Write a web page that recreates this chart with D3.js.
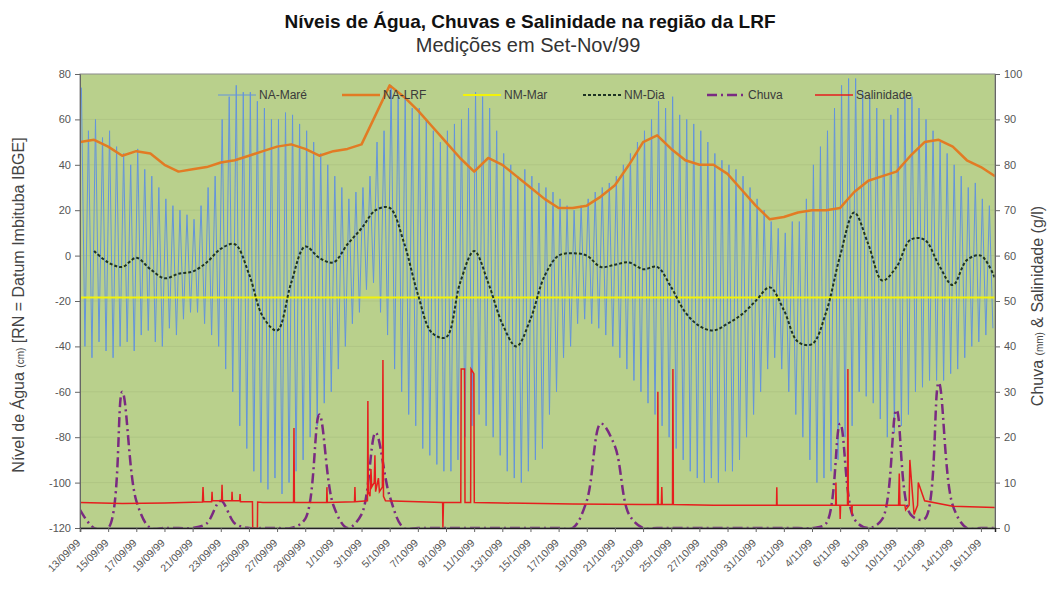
<!DOCTYPE html>
<html>
<head>
<meta charset="utf-8">
<script src="https://cdn.jsdelivr.net/npm/d3@7/dist/d3.min.js"></script>
<style>
  body { margin: 0; background: #fff; }
  svg { display: block; font-family: "Liberation Sans", Arial, sans-serif; }
</style>
</head>
<body>
<svg id="chart" width="1054" height="596"></svg>
<script>
// ---- data ----
var startDay = "13/09/99";
var endDay = "17/11/99";

var dateLabels = ["13/09/99", "15/09/99", "17/09/99", "19/09/99", "21/09/99", "23/09/99", "25/09/99",
  "27/09/99", "29/09/99", "1/10/99", "3/10/99", "5/10/99", "7/10/99", "9/10/99", "11/10/99",
  "13/10/99", "15/10/99", "17/10/99", "19/10/99", "21/10/99", "23/10/99", "25/10/99", "27/10/99",
  "29/10/99", "31/10/99", "2/11/99", "4/11/99", "6/11/99", "8/11/99", "10/11/99", "12/11/99",
  "14/11/99", "16/11/99"];

var leftTicks = [-120, -100, -80, -60, -40, -20, 0, 20, 40, 60, 80];
var rightTicks = [0, 10, 20, 30, 40, 50, 60, 70, 80, 90, 100];

var seriesNames = ["NA-Maré", "NA-LRF", "NM-Mar", "NM-Dia", "Chuva", "Salinidade"];

// NA-Maré : 4 readings per day (high, low, high, low), cm
var tideLevels = [
  74, -40, 55, -45,   60, -38, 52, -42,   55, -45, 48, -40,   45, -38, 40, -42,
  47, -35, 38, -33,   35, -38, 30, -40,   25, -32, 22, -35,   20, -28, 18, -25,
  16, -25, 22, -30,   30, -35, 35, -40,   60, -50, 70, -60,   75, -75, 72, -85,
  72, -95, 68, -100,  65, -103, 60, -98,  60, -105, 63, -100, 62, -95, 58, -90,
  55, -80, 50, -75,   45, -65, 40, -60,   35, -50, 30, -40,   25, -30, 28, -25,
  30, -15, 35, -12,   50, -25, 55, -35,   75, -50, 70, -60,   70, -70, 65, -75,
  65, -85, 60, -88,   55, -92, 50, -95,   55, -95, 58, -90,   60, -80, 65, -75,
  72, -70, 70, -75,   65, -80, 55, -88,   45, -95, 40, -98,   35, -100, 38, -95,
  35, -90, 32, -85,   30, -70, 28, -60,   25, -45, 22, -40,   20, -30, 22, -28,
  25, -30, 28, -32,   30, -35, 32, -40,   35, -45, 40, -50,   45, -55, 50, -60,
  55, -65, 60, -70,   68, -75, 65, -80,   70, -85, 62, -90,   60, -95, 58, -98,
  55, -100, 50, -98,  45, -100, 42, -95,  40, -95, 38, -90,   35, -80, 30, -70,
  25, -60, 20, -50,   15, -45, 12, -50,   10, -60, 15, -70,   15, -80, 25, -90,
  40, -100, 48, -98,  55, -95, 65, -90,   75, -80, 78, -75,   78, -60, 72, -62,
  70, -65, 65, -72,   60, -80, 62, -78,   65, -75, 70, -70,   70, -60, 65, -58,
  60, -55, 55, -55,   50, -55, 45, -52,   40, -50, 35, -45,   30, -40, 32, -38,
  25, -35, 22, -32
];

// NA-LRF : daily level, cm (days 0..65 from 13/09)
var lrfLevels = [50, 51, 48, 44, 46, 45, 40, 37, 38, 39, 41, 42, 44, 46, 48, 49, 47, 44, 46, 47,
  49, 62, 75, 70, 64, 57, 50, 43, 37, 43, 40, 35, 30, 25, 21, 21, 22, 26, 31, 40,
  50, 53, 47, 42, 40, 40, 36, 29, 22, 16, 17, 19, 20, 20, 21, 28, 33, 35, 37, 44,
  50, 51, 48, 42, 39, 35];

// NM-Mar : mean sea level, cm
var seaMean = -18.5;

// NM-Dia : daily mean level, cm (days 1..65)
var dailyMean = [2, -3, -5, -1, -6, -10, -8, -7, -3, 3, 5, -8, -27, -33, -12, 4, -1, -3, 5, 12,
  20, 21, 6, -17, -34, -36, -12, 2, -12, -30, -40, -28, -9, 0, 1, 0, -5, -4, -3, -6,
  -5, -14, -25, -31, -33, -30, -26, -20, -14, -24, -38, -39, -25, 0, 19, 5, -11, -5, 7, 7,
  -4, -13, -2, 0, -10];

// Chuva : daily rain, mm (days 0..65)
var rainDaily = [4, 0, 0, 30, 6, 0, 0, 0, 0, 1, 6, 1, 0, 0, 0, 0, 2, 25, 5, 0,
  3, 21, 7, 0, 0, 0, 0, 0, 0, 0, 0, 0, 0, 0, 0, 0, 6, 23, 18, 3,
  0, 0, 0, 0, 0, 0, 0, 0, 0, 0, 0, 0, 0, 1, 23, 2, 0, 2, 26, 3,
  2, 32, 5, 0, 0, 0];

// Salinidade : g/l, at fractional day since 13/09
var salDays = [0, 3, 6, 8.7, 8.74, 8.78, 9.35, 9.38, 9.41, 10.06, 10.09, 10.12, 10.78, 10.8, 10.83,
  11.34, 11.37, 11.4, 12.25, 12.27, 12.6, 12.62, 13, 15.17, 15.2, 15.23, 17.52, 17.54, 17.57,
  19.5, 19.53, 19.56, 20.42, 20.45, 20.48, 20.6, 20.67, 20.72, 20.9, 20.95, 21.0, 21.2, 21.27,
  21.48, 21.52, 21.56, 21.7, 25.76, 25.78, 25.82, 27.05, 27.08, 27.32, 27.35, 27.75, 27.78,
  27.98, 28.01, 30, 35, 40, 41.02, 41.05, 41.08, 41.3, 41.33, 41.36, 42.09, 42.12, 42.15,
  45, 49.48, 49.5, 49.52, 53, 53.68, 53.7, 53.73, 53.98, 54.0, 54.03, 54.52, 54.55, 54.58,
  54.8, 54.83, 54.86, 58.15, 58.2, 58.25, 58.6, 58.65, 58.9, 58.95, 59.2, 59.25, 59.5, 59.55,
  60, 62, 65];
var salValues = [5.6, 5.4, 5.5, 5.7, 9, 5.8, 5.8, 8, 6, 6, 9.5, 6, 6, 8, 6,
  6, 7.5, 5.8, 5.8, 0, 0, 5.7, 5.6, 5.6, 22, 5.6, 5.6, 9, 5.6,
  5.8, 9, 5.8, 6, 28, 8, 7, 13, 9, 10, 16, 8, 11, 8,
  9, 37, 7, 6, 5.6, 0, 5.6, 5.6, 35, 35, 5.6, 5.6, 35,
  34, 5.6, 5.5, 5.3, 5.2, 5.2, 30, 5.2, 5.2, 9, 5.2, 5.2, 35, 5.2,
  5, 5, 9, 5, 5, 5, 10, 5, 5, 2, 5, 5, 35, 5,
  5, 3, 5, 5, 12, 5, 5, 4, 5, 15, 5, 3, 5, 10,
  6, 4.8, 4.5];

// ---- chart ----
var plot = {left: 80, right: 995, top: 74, bottom: 528};
var colors = {
  tide: "#6494dc", lrf: "#e27b24", sea: "#f2f20a", day: "#1e3324",
  rain: "#7a2a82", sal: "#e61e1e", bg: "#b9d08c", text: "#555"
};

var parseDay = d3.utcParse("%d/%m/%y");
var t0 = parseDay(startDay);
var DAY = 864e5;
function atDay(d) { return new Date(t0.getTime() + d * DAY); }

var x = d3.scaleUtc().domain([t0, parseDay(endDay)]).range([plot.left, plot.right]);
var yL = d3.scaleLinear().domain([-120, 80]).range([plot.bottom, plot.top]);
var yR = d3.scaleLinear().domain([0, 100]).range([plot.bottom, plot.top]);

var svg = d3.select("#chart");

svg.append("defs").append("clipPath").attr("id", "plot-clip")
  .append("rect")
  .attr("x", plot.left).attr("y", plot.top)
  .attr("width", plot.right - plot.left).attr("height", plot.bottom - plot.top);

// plot background
svg.append("rect")
  .attr("x", plot.left).attr("y", plot.top)
  .attr("width", plot.right - plot.left).attr("height", plot.bottom - plot.top)
  .attr("fill", colors.bg);

// faint gridlines
svg.append("g").selectAll("line")
  .data(leftTicks.slice(1, -1))
  .enter().append("line")
  .attr("x1", plot.left).attr("x2", plot.right)
  .attr("y1", function(d) { return yL(d); }).attr("y2", function(d) { return yL(d); })
  .attr("stroke", "#afc584").attr("stroke-width", 1);

var g = svg.append("g").attr("clip-path", "url(#plot-clip)");

// NA-Maré
var tidePts = tideLevels.map(function(v, i) { return [atDay(i * 0.25 + 0.1), v]; });
g.append("path")
  .attr("d", d3.line().x(function(d) { return x(d[0]); }).y(function(d) { return yL(d[1]); })(tidePts))
  .attr("fill", "none").attr("stroke", colors.tide).attr("stroke-width", 1);

// NA-LRF
g.append("path")
  .attr("d", d3.line().x(function(d, i) { return x(atDay(i)); }).y(function(d) { return yL(d); })(lrfLevels))
  .attr("fill", "none").attr("stroke", colors.lrf).attr("stroke-width", 2.5)
  .attr("stroke-linejoin", "round");

// NM-Mar
g.append("line")
  .attr("x1", plot.left).attr("x2", plot.right)
  .attr("y1", yL(seaMean)).attr("y2", yL(seaMean))
  .attr("stroke", colors.sea).attr("stroke-width", 2);

// NM-Dia
g.append("path")
  .attr("d", d3.line().curve(d3.curveCatmullRom)
    .x(function(d, i) { return x(atDay(i + 1)); }).y(function(d) { return yL(d); })(dailyMean))
  .attr("fill", "none").attr("stroke", colors.day).attr("stroke-width", 2)
  .attr("stroke-dasharray", "3,2");

// Chuva
g.append("path")
  .attr("d", d3.line().curve(d3.curveCatmullRom)
    .x(function(d, i) { return x(atDay(i)); }).y(function(d) { return yR(d); })(rainDaily))
  .attr("fill", "none").attr("stroke", colors.rain).attr("stroke-width", 2.5)
  .attr("stroke-dasharray", "10,4,2,4");

// Salinidade
g.append("path")
  .attr("d", d3.line().x(function(d, i) { return x(atDay(salDays[i])); }).y(function(d) { return yR(d); })(salValues))
  .attr("fill", "none").attr("stroke", colors.sal).attr("stroke-width", 1.5);

// plot frame
svg.append("rect")
  .attr("x", plot.left).attr("y", plot.top)
  .attr("width", plot.right - plot.left).attr("height", plot.bottom - plot.top)
  .attr("fill", "none").attr("stroke", "#8a8a8a").attr("stroke-width", 1);

// axes
var axL = svg.append("g").attr("transform", "translate(" + plot.left + ",0)")
  .call(d3.axisLeft(yL).tickValues(leftTicks).tickSize(5).tickFormat(function(d) { return String(d); }));
var axR = svg.append("g").attr("transform", "translate(" + plot.right + ",0)")
  .call(d3.axisRight(yR).tickValues(rightTicks).tickSize(5).tickFormat(function(d) { return String(d); }));
var tickDates = dateLabels.map(function(s) { return parseDay(s); });
var axB = svg.append("g").attr("transform", "translate(0," + plot.bottom + ")")
  .call(d3.axisBottom(x).tickValues(tickDates).tickSize(4)
    .tickFormat(function(d, i) { return dateLabels[i]; }));

[axL, axR, axB].forEach(function(a) {
  a.select(".domain").attr("stroke", "#666");
  a.selectAll(".tick line").attr("stroke", "#666");
  a.selectAll("text").attr("fill", colors.text);
});
axB.select(".domain").attr("stroke", "#222").attr("stroke-width", 1.5);
axL.selectAll("text").style("font-size", "11px").attr("x", -9);
axR.selectAll("text").style("font-size", "11px").attr("x", 9);
axB.selectAll("text")
  .style("font-size", "10.5px")
  .attr("text-anchor", "end")
  .attr("x", 0).attr("y", 0).attr("dy", "0.35em")
  .attr("transform", "translate(-2,13) rotate(-45)");

// axis titles
var tl = svg.append("text")
  .attr("transform", "translate(24," + ((plot.top + plot.bottom) / 2 + 4) + ") rotate(-90)")
  .attr("text-anchor", "middle").attr("fill", "#444").style("font-size", "16px");
tl.append("tspan").text("Nível de Água ");
tl.append("tspan").style("font-size", "10px").text("(cm)");
tl.append("tspan").text(" [RN = Datum Imbituba IBGE]");

var tr = svg.append("text")
  .attr("transform", "translate(1043," + ((plot.top + plot.bottom) / 2 + 5) + ") rotate(-90)")
  .attr("text-anchor", "middle").attr("fill", "#444").style("font-size", "16px");
tr.append("tspan").text("Chuva ");
tr.append("tspan").style("font-size", "10px").text("(mm)");
tr.append("tspan").text(" & Salinidade (g/l)");

// titles
svg.append("text").attr("x", 530).attr("y", 28).attr("text-anchor", "middle")
  .attr("fill", "#111").style("font-size", "19px").style("font-weight", "bold")
  .text("Níveis de Água, Chuvas e Salinidade na região da LRF");
svg.append("text").attr("x", 528).attr("y", 52).attr("text-anchor", "middle")
  .attr("fill", "#333").style("font-size", "20px")
  .text("Medições em Set-Nov/99");

// legend
var legendStyles = [
  {stroke: colors.tide, width: 1, dash: null},
  {stroke: colors.lrf, width: 2.5, dash: null},
  {stroke: colors.sea, width: 2, dash: null},
  {stroke: colors.day, width: 2, dash: "3,2"},
  {stroke: colors.rain, width: 2.5, dash: "10,4,2,4"},
  {stroke: colors.sal, width: 1.5, dash: null}
];
var legendX = [218, 342, 463, 583, 707, 815];
var leg = svg.append("g").selectAll("g")
  .data(seriesNames)
  .enter().append("g")
  .attr("transform", function(d, i) { return "translate(" + legendX[i] + ",95)"; });
leg.append("line")
  .attr("x1", 0).attr("x2", 38).attr("y1", 0).attr("y2", 0)
  .attr("stroke", function(d, i) { return legendStyles[i].stroke; })
  .attr("stroke-width", function(d, i) { return legendStyles[i].width; })
  .attr("stroke-dasharray", function(d, i) { return legendStyles[i].dash; });
leg.append("text")
  .attr("x", 41).attr("y", 4)
  .attr("fill", "#3a3a3a").style("font-size", "12px")
  .text(function(d) { return d; });
</script>
</body>
</html>
